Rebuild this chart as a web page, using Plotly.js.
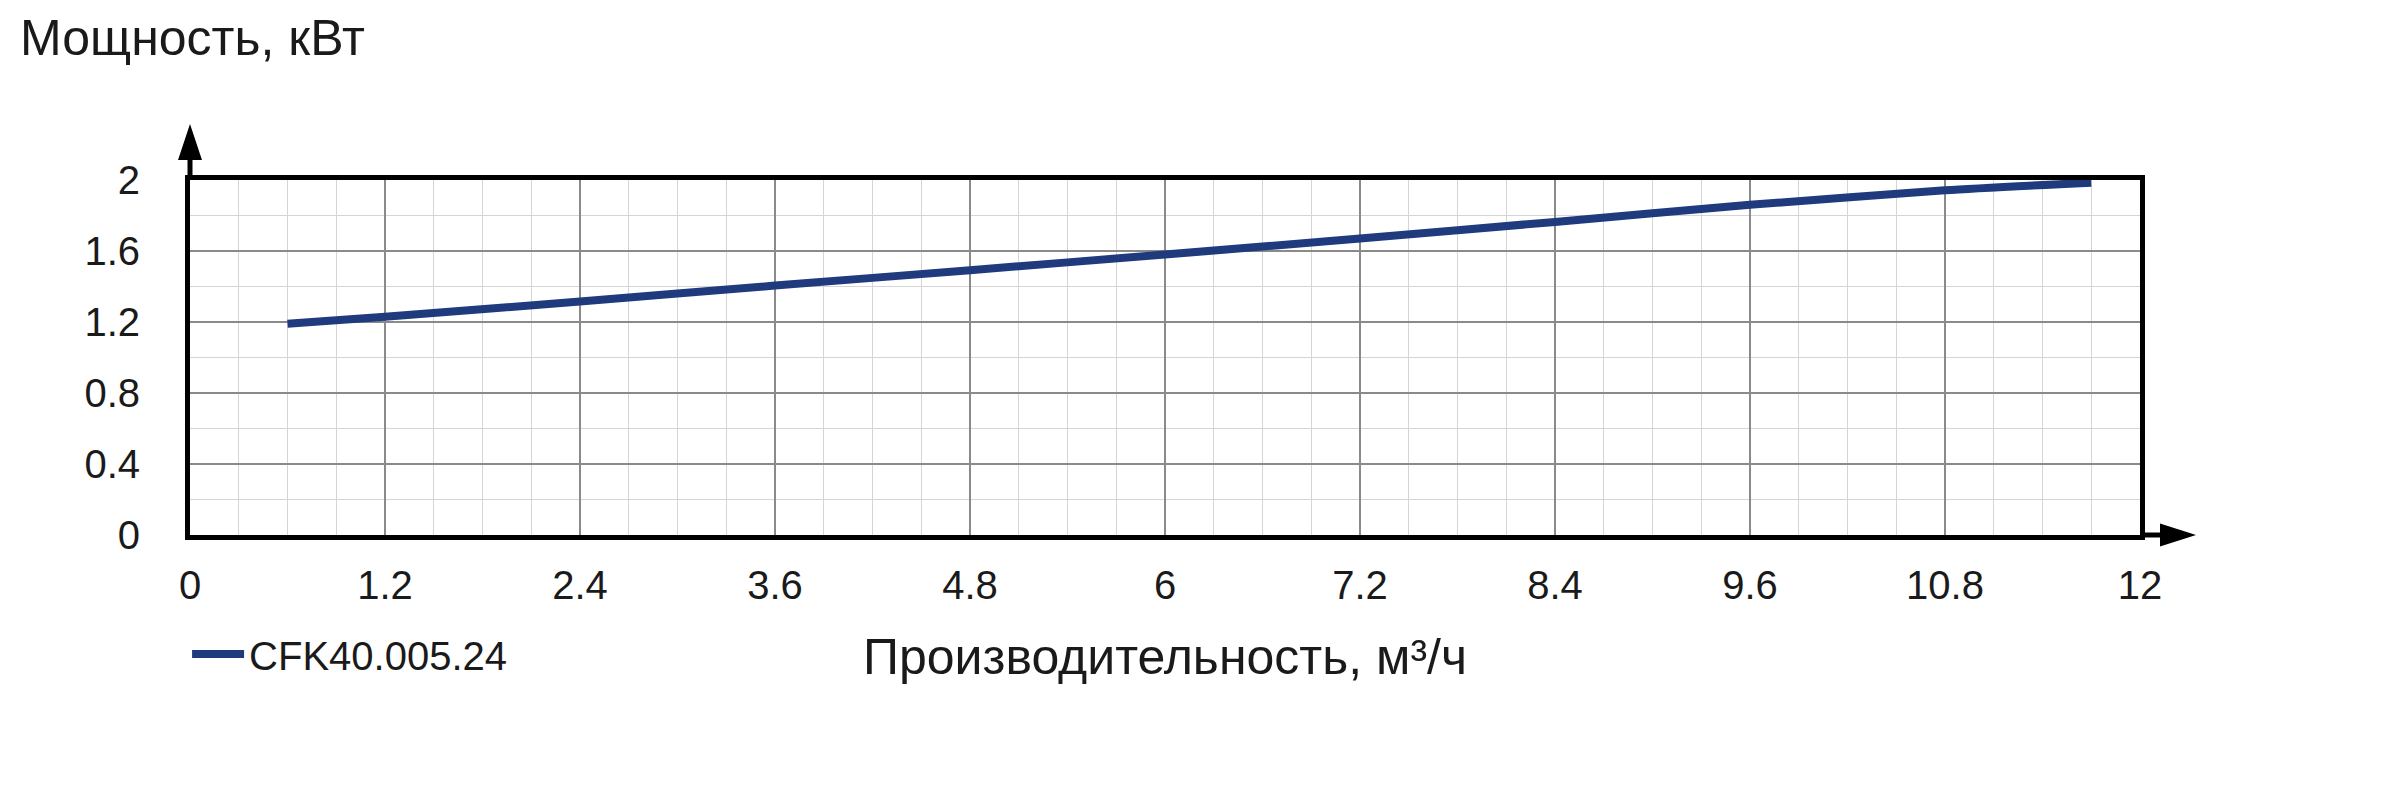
<!DOCTYPE html>
<html>
<head>
<meta charset="utf-8">
<script src="https://cdn.plot.ly/plotly-3.0.1.min.js"></script>
<style>
  html, body { margin: 0; padding: 0; background: #ffffff; }
  #chart { width: 2400px; height: 800px; }
</style>
</head>
<body>
<div id="chart"></div>
<script>
// Data
const seriesName = "CFK40.005.24";
const flow = [0.6, 1.2, 2.4, 3.6, 4.8, 6.0, 7.2, 8.4, 9.6, 10.8, 11.7];
const power = [1.19, 1.23, 1.315, 1.405, 1.492, 1.58, 1.67, 1.764, 1.86, 1.942, 1.985];

const xTickVals = [0, 1.2, 2.4, 3.6, 4.8, 6, 7.2, 8.4, 9.6, 10.8, 12];
const xTickText = ["0", "1.2", "2.4", "3.6", "4.8", "6", "7.2", "8.4", "9.6", "10.8", "12"];
const yTickVals = [0, 0.4, 0.8, 1.2, 1.6, 2];
const yTickText = ["0", "0.4", "0.8", "1.2", "1.6", "2"];

const xTitle = "Производительность, м³/ч";
const yTitle = "Мощность, кВт";

const FONT = '"Liberation Sans", Arial, Helvetica, sans-serif';
const TXT = '#1a1a1a';
const LINE = '#1f3a7d';

const trace = {
  type: 'scatter',
  mode: 'lines',
  name: seriesName,
  x: flow,
  y: power,
  line: { color: LINE, width: 8, shape: 'spline', smoothing: 0.6 },
  hoverinfo: 'x+y'
};

const gridMajor = '#8a8a8a';
const gridMinor = '#d5d5d5';

const layout = {
  width: 2400,
  height: 800,
  paper_bgcolor: '#ffffff',
  plot_bgcolor: '#ffffff',
  font: { family: FONT, color: TXT, size: 40 },
  margin: { l: 190, r: 260, t: 180, b: 265, pad: 0 },
  showlegend: true,
  title: {
    text: yTitle,
    font: { family: FONT, size: 50, color: TXT },
    xref: 'container', x: 20 / 2400, xanchor: 'left',
    yref: 'container', y: 1 - 37 / 800, yanchor: 'middle'
  },
  legend: {
    x: -0.0015, xanchor: 'left',
    y: -0.335, yanchor: 'middle',
    itemwidth: 52,
    font: { family: FONT, size: 40, color: TXT },
    bgcolor: 'rgba(0,0,0,0)',
    borderwidth: 0
  },
  xaxis: {
    range: [0, 12],
    tickmode: 'array',
    tickvals: xTickVals,
    ticktext: xTickText,
    ticks: '',
    ticklabelstandoff: 11,
    tickfont: { family: FONT, size: 40, color: TXT },
    showgrid: true,
    gridcolor: gridMajor,
    gridwidth: 1.5,
    minor: { dtick: 0.3, tick0: 0, showgrid: true, gridcolor: gridMinor, gridwidth: 1.2, ticks: '' },
    zeroline: false,
    showline: true,
    linecolor: '#000000',
    linewidth: 5,
    mirror: true,
    fixedrange: true,
    title: { text: xTitle, font: { family: FONT, size: 50, color: TXT }, standoff: 34 }
  },
  yaxis: {
    range: [0, 2],
    tickmode: 'array',
    tickvals: yTickVals,
    ticktext: yTickText,
    ticks: '',
    ticklabelstandoff: 37,
    tickfont: { family: FONT, size: 40, color: TXT },
    showgrid: true,
    gridcolor: gridMajor,
    gridwidth: 1.5,
    minor: { dtick: 0.2, tick0: 0, showgrid: true, gridcolor: gridMinor, gridwidth: 1.2, ticks: '' },
    zeroline: false,
    showline: true,
    linecolor: '#000000',
    linewidth: 5,
    mirror: true,
    fixedrange: true
  },
  shapes: [
    { type: 'line', xref: 'paper', yref: 'paper', x0: 0, x1: 0, y0: 1, y1: 1.07,
      line: { color: '#000000', width: 5 } },
    { type: 'path', xref: 'paper', yref: 'paper',
      path: 'M -0.00615 1.0563 L 0.00615 1.0563 L 0 1.1577 Z',
      fillcolor: '#000000', line: { width: 0 } },
    { type: 'line', xref: 'paper', yref: 'paper', x0: 1, x1: 1.013, y0: 0, y1: 0,
      line: { color: '#000000', width: 5 } },
    { type: 'path', xref: 'paper', yref: 'paper',
      path: 'M 1.01026 -0.0324 L 1.01026 0.0324 L 1.02872 0 Z',
      fillcolor: '#000000', line: { width: 0 } }
  ]
};

Plotly.newPlot('chart', [trace], layout, { displayModeBar: false, staticPlot: true });
</script>
</body>
</html>
